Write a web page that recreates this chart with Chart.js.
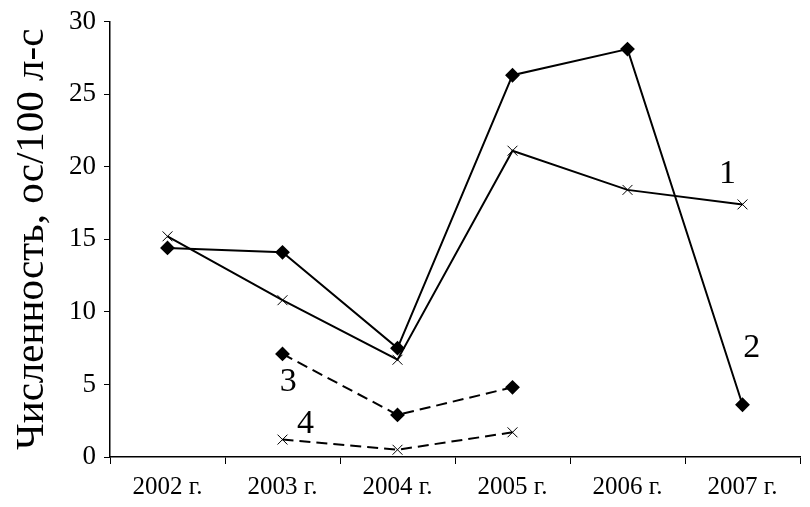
<!DOCTYPE html>
<html>
<head>
<meta charset="utf-8">
<script src="https://cdn.jsdelivr.net/npm/chart.js@4/dist/chart.umd.min.js"></script>
<style>
  html, body { margin: 0; padding: 0; background: #fff; }
  #wrap { width: 810px; height: 507px; }
</style>
</head>
<body>
<div id="wrap"><canvas id="c"></canvas></div>
<script>
const years = ["2002 г.", "2003 г.", "2004 г.", "2005 г.", "2006 г.", "2007 г."];
const series1 = [15.2, 10.8, 6.7, 21.1, 18.4, 17.4];
const series2 = [14.4, 14.1, 7.5, 26.3, 28.1, 3.6];
const series3 = [null, 7.1, 2.9, 4.8, null, null];
const series4 = [null, 1.2, 0.5, 1.7, null, null];
const yTitle = "Численность, ос/100 л-с";

// curve numbers: text, category position, value
const curveLabels = ["1", "2", "3", "4"];
const curveLabelX = [4.87, 5.08, 1.05, 1.2];
const curveLabelY = [19.5, 7.5, 5.15, 2.3];

const serif = "'Liberation Serif', 'DejaVu Serif', serif";

const curveLabelPlugin = {
  id: "curveLabels",
  afterDatasetsDraw(chart) {
    const ctx = chart.ctx;
    const xs = chart.scales.x, ys = chart.scales.y;
    ctx.save();
    ctx.fillStyle = "#000";
    ctx.font = "34px " + serif;
    ctx.textAlign = "center";
    ctx.textBaseline = "middle";
    for (let i = 0; i < curveLabels.length; i++) {
      ctx.fillText(curveLabels[i], xs.getPixelForValue(curveLabelX[i]), ys.getPixelForValue(curveLabelY[i]));
    }
    ctx.restore();
  }
};

new Chart(document.getElementById("c"), {
  type: "line",
  data: {
    labels: years,
    datasets: [
      { data: series1, borderColor: "#000", borderWidth: 2, pointStyle: "crossRot", pointRadius: 7,
        pointBorderWidth: 1, pointBorderColor: "#000", pointBackgroundColor: "#fff", tension: 0 },
      { data: series2, borderColor: "#000", borderWidth: 2, pointStyle: "rectRot", pointRadius: 6,
        pointBorderColor: "#000", pointBackgroundColor: "#000", tension: 0 },
      { data: series3, borderColor: "#000", borderWidth: 2, borderDash: [11, 6], pointStyle: "rectRot", pointRadius: 6,
        pointBorderColor: "#000", pointBackgroundColor: "#000", tension: 0 },
      { data: series4, borderColor: "#000", borderWidth: 2, borderDash: [11, 6], pointStyle: "crossRot", pointRadius: 7,
        pointBorderWidth: 1, pointBorderColor: "#000", pointBackgroundColor: "#fff", tension: 0 }
    ]
  },
  options: {
    responsive: true,
    maintainAspectRatio: false,
    animation: false,
    layout: { padding: { left: 8, right: 10, top: 17, bottom: 0 } },
    plugins: { legend: { display: false }, tooltip: { enabled: false } },
    scales: {
      x: {
        offset: true,
        border: { color: "#000", width: 1.5 },
        grid: { offset: true, drawOnChartArea: false, color: "#000", tickLength: 7 },
        ticks: { color: "#000", font: { family: serif, size: 25 }, maxRotation: 0, padding: 8 },
        afterFit(s) { s.height = 50; }
      },
      y: {
        min: 0, max: 30,
        border: { color: "#000", width: 1.5 },
        grid: { drawOnChartArea: false, color: "#000", tickLength: 6 },
        ticks: { stepSize: 5, color: "#000", font: { family: serif, size: 27, lineHeight: 1 }, padding: 8 },
        title: { display: true, text: yTitle, color: "#000", font: { family: serif, size: 41 }, padding: 0 },
        afterFit(s) { s.width = 102; }
      }
    }
  },
  plugins: [curveLabelPlugin]
});
</script>
</body>
</html>
